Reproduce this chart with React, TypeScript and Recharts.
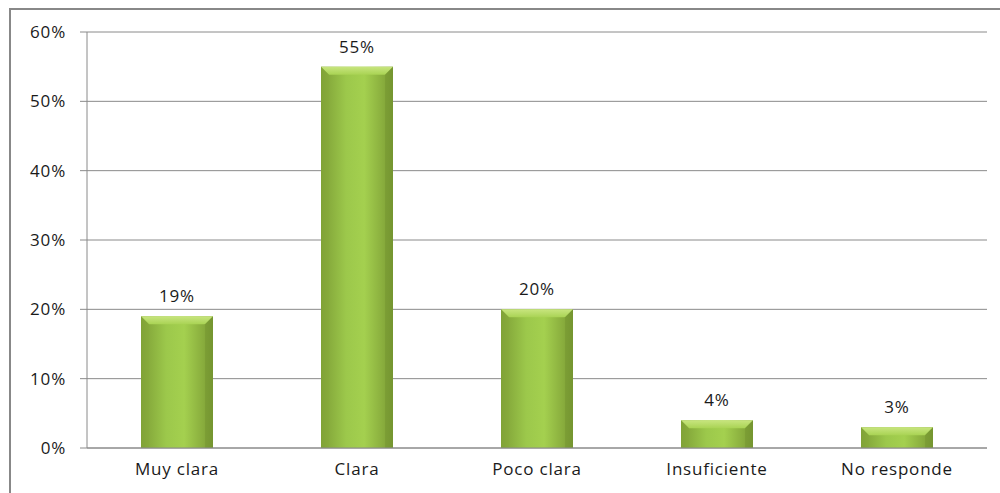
import React from 'react';
import { BarChart, Bar, XAxis, YAxis, CartesianGrid, LabelList } from 'recharts';

const categories = ['Muy clara', 'Clara', 'Poco clara', 'Insuficiente', 'No responde'];
const values = [0.19, 0.55, 0.2, 0.04, 0.03];
const yTicks = [0, 0.1, 0.2, 0.3, 0.4, 0.5, 0.6];
const edgeTicks = [0, 1, 2, 3, 4, 5];

const data = categories.map((name, i) => ({ name, value: values[i], pos: i + 0.5 }));

const pct = (v: number) => `${Math.round(v * 100)}%`;
const textStyle = { fill: '#1a1a1a', fontSize: 17, fontFamily: '"Open Sans", sans-serif', letterSpacing: 0.8 };

function BevelBar(props: any) {
  const { x, y, width, height } = props;
  if (!height || height <= 0) return null;
  const b = Math.min(8, height / 2, width / 4);
  return (
    <g>
      <rect x={x} y={y} width={width} height={height} fill="url(#barGrad)" />
      <polygon
        points={`${x},${y} ${x + width},${y} ${x + width - b},${y + b} ${x + b},${y + b}`}
        fill="url(#topGrad)"
      />
      <polygon points={`${x},${y} ${x + b},${y + b} ${x + b},${y + height} ${x},${y + height}`} fill="#86a83a" opacity={0.35} />
      <polygon
        points={`${x + width},${y} ${x + width - b},${y + b} ${x + width - b},${y + height} ${x + width},${y + height}`}
        fill="#6f8f2c"
        opacity={0.4}
      />
    </g>
  );
}

export default function App() {
  return (
    <div style={{ position: 'absolute', left: 0, top: 0, width: 1000, height: 493, background: '#fff', overflow: 'hidden' }}>
      <div
        style={{
          position: 'absolute',
          left: 9,
          top: 8,
          width: 1100,
          height: 600,
          borderLeft: '2px solid #888',
          borderTop: '2px solid #888',
        }}
      />
      <div style={{ position: 'absolute', left: 0, top: 0 }}>
        <BarChart
          width={1000}
          height={493}
          data={data}
          margin={{ top: 32, right: 13, bottom: 5, left: 0 }}
          barCategoryGap="30%"
        >
          <defs>
            <linearGradient id="barGrad" x1="0" y1="0" x2="1" y2="0">
              <stop offset="0%" stopColor="#7e9f36" />
              <stop offset="35%" stopColor="#9cc84b" />
              <stop offset="60%" stopColor="#a4d04f" />
              <stop offset="100%" stopColor="#7a9a33" />
            </linearGradient>
            <linearGradient id="topGrad" x1="0" y1="0" x2="0" y2="1">
              <stop offset="0%" stopColor="#c8e57f" />
              <stop offset="100%" stopColor="#a9d354" />
            </linearGradient>
          </defs>
          <CartesianGrid vertical={false} stroke="#8a8a8a" strokeWidth={1} />
          <XAxis
            xAxisId="edges"
            type="number"
            dataKey="pos"
            domain={[0, 5]}
            ticks={edgeTicks}
            tick={false}
            tickSize={6}
            axisLine={false}
            tickLine={{ stroke: '#8a8a8a' }}
            height={0}
          />
          <XAxis
            dataKey="name"
            height={40}
            tickLine={false}
            axisLine={{ stroke: '#8a8a8a' }}
            tickMargin={9}
            tick={textStyle}
            interval={0}
          />
          <YAxis
            width={87}
            domain={[0, 0.6]}
            ticks={yTicks}
            tickFormatter={pct}
            tickSize={7}
            tickMargin={14}
            axisLine={{ stroke: '#8a8a8a' }}
            tickLine={{ stroke: '#8a8a8a' }}
            tick={textStyle}
            allowDataOverflow
          />
          <Bar dataKey="value" shape={<BevelBar />} isAnimationActive={false}>
            <LabelList
              dataKey="value"
              position="top"
              offset={14}
              formatter={(v: any) => pct(Number(v))}
              style={textStyle}
            />
          </Bar>
        </BarChart>
      </div>
    </div>
  );
}
